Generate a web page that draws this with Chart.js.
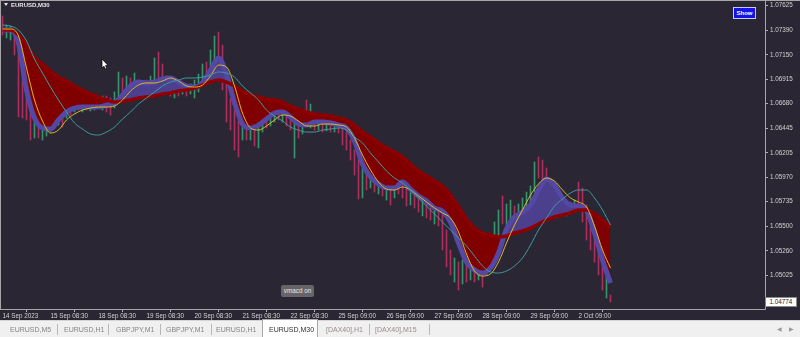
<!DOCTYPE html>
<html>
<head>
<meta charset="utf-8">
<script src="https://cdn.jsdelivr.net/npm/chart.js@4.4.0/dist/chart.umd.min.js"></script>
<style>
  html, body { margin: 0; padding: 0; width: 800px; height: 337px; overflow: hidden; background: #2a2633; font-family: 'Liberation Sans', Arial, sans-serif; }
  #wrap { position: absolute; left: 0; top: 0; width: 800px; height: 320px; }
  #chart { display: block; }
  #title { position: absolute; left: 4px; top: 1px; color: #e8e8e8; font-size: 6px; font-weight: bold; line-height: 9px; }
  #title .tri { display: inline-block; width: 0; height: 0; border-left: 2.5px solid transparent; border-right: 2.5px solid transparent; border-top: 3px solid #e8e8e8; margin-right: 3px; vertical-align: 1px; }
  #show { position: absolute; left: 733px; top: 7px; width: 21px; height: 10px; background: #1414e6; border: 1px solid #c8c8ff; color: #fff; font-size: 6px; font-weight: bold; line-height: 10px; text-align: center; }
  #vmacd { position: absolute; left: 281px; top: 285px; width: 33px; height: 12px; background: #666468; border-radius: 2px; color: #e6e6e6; font-size: 6.3px; line-height: 12px; text-align: center; }
  #last { position: absolute; left: 765px; top: 297px; width: 30px; height: 8px; background: #fff; border: 1px solid #8a8a8a; color: #222; font-size: 6.3px; line-height: 8px; text-align: center; }
  #tabs { position: absolute; left: 0; top: 320px; width: 800px; height: 17px; background: #f0f0f0; border-top: 1px solid #d4d4d4; box-sizing: border-box; }
  .tab { position: absolute; top: 4px; color: #858585; font-size: 7px; line-height: 9px; white-space: nowrap; }
  .sep { position: absolute; top: 3px; width: 1px; height: 11px; background: #b8b8b8; }
  #active { position: absolute; left: 262px; top: -2px; width: 56px; height: 18px; background: #fff; border: 1px solid #a8a8a8; border-bottom: none; box-sizing: border-box; }
  #active span { position: absolute; left: 6px; top: 5px; color: #303030; font-size: 7px; line-height: 9px; }
  .arr { position: absolute; top: 4px; color: #9a9a9a; font-size: 6px; line-height: 9px; }
</style>
</head>
<body>
<div id="wrap">
  <canvas id="chart" width="800" height="320"></canvas>
  <div id="title"><span class="tri"></span>EURUSD,M30</div>
  <div id="show">Show</div>
  <div id="vmacd">vmacd on</div>
  <div id="last">1.04774</div>
</div>
<div id="tabs">
  <span class="tab" style="left:10px">EURUSD,M5</span>
  <span class="sep" style="left:57px"></span>
  <span class="tab" style="left:64px">EURUSD,H1</span>
  <span class="sep" style="left:108px"></span>
  <span class="tab" style="left:116px">GBPJPY,M1</span>
  <span class="sep" style="left:160px"></span>
  <span class="tab" style="left:166px">GBPJPY,M1</span>
  <span class="sep" style="left:211px"></span>
  <span class="tab" style="left:216px">EURUSD,H1</span>
  <div id="active"><span>EURUSD,M30</span></div>
  <span class="tab" style="left:326px;color:#9a8a8a">[DAX40],H1</span>
  <span class="sep" style="left:369px"></span>
  <span class="tab" style="left:375px;color:#9a8a8a">[DAX40],M15</span>
  <span class="sep" style="left:429px"></span>
  <span class="arr" style="left:777px">&#9664;</span>
  <span class="arr" style="left:789px">&#9654;</span>
</div>
<script>
// time axis labels, one per trading day (12 two-hour samples)
const tickLabels = ['14 Sep 2023', '15 Sep 08:30', '18 Sep 08:30', '19 Sep 08:30', '20 Sep 08:30', '21 Sep 08:30',
  '22 Sep 08:30', '25 Sep 09:00', '26 Sep 09:00', '27 Sep 09:00', '28 Sep 09:00', '29 Sep 09:00', '2 Oct 09:00'];
const priceTicks = [1.07625, 1.07390, 1.07150, 1.06915, 1.06680, 1.06445, 1.06205, 1.05970, 1.05735, 1.05500, 1.05260, 1.05025];
const lastPrice = 1.04774;

// candles (two-hour samples): high, low, direction u/d
const candleHigh = [
  1.07526,1.07439,1.07429,1.07391,1.07246,1.07101,1.06764,1.06716,1.06503,1.06474,
  1.06503,1.06484,1.06542,1.06581,1.06619,1.06600,1.06658,1.06677,1.06696,1.06716,
  1.06696,1.06716,1.06706,1.06716,1.06735,1.06754,1.06754,1.06735,1.06793,1.06986,
  1.06928,1.06947,1.06928,1.06976,1.06908,1.06889,1.06908,1.06947,1.07121,1.07179,
  1.07063,1.06947,1.06870,1.06831,1.06851,1.06870,1.06851,1.06870,1.06908,1.06966,
  1.07063,1.07082,1.07198,1.07333,1.07371,1.07246,1.06908,1.06735,1.06619,1.06523,
  1.06503,1.06484,1.06503,1.06484,1.06523,1.06542,1.06600,1.06619,1.06638,1.06677,
  1.06658,1.06619,1.06581,1.06542,1.06523,1.06542,1.06716,1.06677,1.06542,1.06523,
  1.06523,1.06513,1.06523,1.06503,1.06513,1.06484,1.06446,1.06330,1.06233,1.06137,
  1.06060,1.06021,1.06002,1.05963,1.05944,1.05925,1.05906,1.05886,1.05906,1.05944,
  1.05906,1.05886,1.05848,1.05828,1.05809,1.05771,1.05751,1.05713,1.05693,1.05674,
  1.05616,1.05462,1.05269,1.05192,1.05153,1.05173,1.05153,1.05134,1.05115,1.05134,
  1.05153,1.05269,1.05404,1.05539,1.05655,1.05790,1.05713,1.05751,1.05693,1.05713,
  1.05771,1.05828,1.05886,1.06118,1.06166,1.06137,1.06060,1.05906,1.05790,1.05751,
  1.05732,1.05713,1.05732,1.05751,1.05925,1.05867,1.05703,1.05578,1.05443,1.05317,
  1.05192,1.05028,1.04835
];
const candleLow = [
  1.07342,1.07314,1.07294,1.07150,1.06552,1.06542,1.06523,1.06330,1.06349,1.06349,
  1.06330,1.06368,1.06407,1.06446,1.06474,1.06455,1.06542,1.06571,1.06600,1.06619,
  1.06600,1.06619,1.06610,1.06619,1.06638,1.06619,1.06600,1.06571,1.06638,1.06716,
  1.06754,1.06793,1.06773,1.06812,1.06764,1.06754,1.06773,1.06812,1.06870,1.06908,
  1.06889,1.06812,1.06754,1.06735,1.06754,1.06773,1.06754,1.06773,1.06735,1.06793,
  1.06889,1.06947,1.06986,1.07101,1.07063,1.06812,1.06503,1.06426,1.06233,1.06166,
  1.06330,1.06330,1.06330,1.06272,1.06253,1.06407,1.06446,1.06465,1.06503,1.06523,
  1.06503,1.06465,1.06426,1.06156,1.06349,1.06388,1.06484,1.06446,1.06426,1.06426,
  1.06407,1.06417,1.06407,1.06407,1.06397,1.06282,1.06233,1.06137,1.05992,1.05761,
  1.05771,1.05848,1.05867,1.05828,1.05809,1.05790,1.05751,1.05703,1.05771,1.05809,
  1.05771,1.05693,1.05703,1.05674,1.05635,1.05597,1.05578,1.05558,1.05520,1.05500,
  1.05269,1.05105,1.05028,1.04960,1.04883,1.04941,1.04960,1.04980,1.04960,1.04980,
  1.04912,1.05028,1.05153,1.05269,1.05365,1.05520,1.05500,1.05539,1.05558,1.05578,
  1.05616,1.05655,1.05703,1.05828,1.05963,1.05906,1.05848,1.05732,1.05635,1.05616,
  1.05597,1.05597,1.05616,1.05635,1.05674,1.05539,1.05365,1.05269,1.05153,1.05028,
  1.04883,1.04806,1.04768
];
const candleDir = 'duudddddud' + 'uuudududud' + 'uduududduu' + 'dudududuud' + 'dudududuuu' +
  'uduudddddd' + 'ududuuduud' + 'uddudududu' + 'dududddddd' + 'ududududud' +
  'ddudduddud' + 'dddudududu' + 'duuuuduudu' + 'uuuudddddu' + 'dududddddd' + 'dud';

// moving averages, one value every second sample
const fastMA = [
  1.07391,1.07391,1.07265,1.06812,1.06542,1.06446,1.06436,1.06523,1.06600,1.06638,
  1.06648,1.06648,1.06648,1.06667,1.06687,1.06764,1.06851,1.06889,1.06880,1.06889,
  1.06918,1.06928,1.06889,1.06851,1.06841,1.06880,1.07005,1.07121,1.06966,1.06687,
  1.06484,1.06446,1.06474,1.06532,1.06590,1.06600,1.06552,1.06484,1.06474,1.06503,
  1.06503,1.06494,1.06474,1.06446,1.06320,1.06098,1.05973,1.05906,1.05867,1.05867,
  1.05925,1.05857,1.05790,1.05742,1.05674,1.05645,1.05539,1.05337,1.05153,1.05076,
  1.05047,1.05095,1.05240,1.05472,1.05587,1.05635,1.05703,1.05848,1.05954,1.05896,
  1.05771,1.05703,1.05693,1.05655,1.05433,1.05173,1.04951
];
const slowMA = [
  1.07391,1.07391,1.07342,1.07246,1.07130,1.07063,1.06995,1.06937,1.06899,1.06851,
  1.06812,1.06773,1.06745,1.06716,1.06696,1.06706,1.06716,1.06735,1.06745,1.06754,
  1.06773,1.06783,1.06802,1.06812,1.06831,1.06860,1.06889,1.06908,1.06889,1.06851,
  1.06802,1.06764,1.06745,1.06725,1.06716,1.06696,1.06658,1.06629,1.06600,1.06581,
  1.06571,1.06561,1.06542,1.06523,1.06474,1.06407,1.06359,1.06301,1.06253,1.06214,
  1.06166,1.06098,1.06031,1.05983,1.05934,1.05886,1.05799,1.05684,1.05568,1.05481,
  1.05433,1.05414,1.05394,1.05404,1.05433,1.05452,1.05481,1.05520,1.05558,1.05587,
  1.05607,1.05626,1.05655,1.05655,1.05616,1.05558,1.05491
];
const yellowMA = [
  1.07400,1.07400,1.07333,1.07024,1.06716,1.06513,1.06397,1.06426,1.06523,1.06581,
  1.06619,1.06638,1.06648,1.06648,1.06658,1.06716,1.06802,1.06860,1.06880,1.06880,
  1.06899,1.06928,1.06899,1.06851,1.06841,1.06860,1.06947,1.07053,1.07034,1.06851,
  1.06590,1.06446,1.06426,1.06465,1.06523,1.06571,1.06561,1.06513,1.06465,1.06465,
  1.06484,1.06484,1.06474,1.06455,1.06349,1.06185,1.06041,1.05925,1.05857,1.05848,
  1.05877,1.05848,1.05790,1.05732,1.05674,1.05626,1.05578,1.05443,1.05230,1.05067,
  1.05018,1.05038,1.05153,1.05337,1.05510,1.05655,1.05799,1.05906,1.05963,1.05934,
  1.05848,1.05771,1.05732,1.05684,1.05500,1.05269,1.05095
];
const tealMA = [
  1.07439,1.07429,1.07391,1.07285,1.07111,1.06976,1.06841,1.06716,1.06600,1.06494,
  1.06436,1.06388,1.06378,1.06407,1.06455,1.06532,1.06600,1.06677,1.06735,1.06793,
  1.06851,1.06889,1.06908,1.06928,1.06928,1.06937,1.06957,1.06986,1.06976,1.06937,
  1.06851,1.06783,1.06716,1.06619,1.06561,1.06513,1.06455,1.06426,1.06407,1.06407,
  1.06426,1.06436,1.06446,1.06426,1.06359,1.06301,1.06204,1.06118,1.06031,1.05963,
  1.05915,1.05848,1.05771,1.05693,1.05616,1.05539,1.05462,1.05385,1.05308,1.05211,
  1.05115,1.05057,1.05047,1.05067,1.05115,1.05192,1.05317,1.05462,1.05578,1.05693,
  1.05761,1.05819,1.05848,1.05848,1.05771,1.05655,1.05510
];

const maPoints = arr => arr.map((v, k) => ({ x: k * 2, y: v }));
const candles = candleHigh.map((h, i) => ({ x: i, y: [candleLow[i], h] }));
const candleColors = candleHigh.map((h, i) => candleDir[i] === 'u' ? '#34946a' : '#b02c5c');

const tickFont = { family: 'Liberation Sans', size: 6.3 };

// frame lines and mouse pointer
const framePlugin = {
  id: 'frame',
  afterDraw(chart) {
    const c = chart.ctx, a = chart.chartArea;
    c.save();
    c.strokeStyle = '#a6a6a6';
    c.lineWidth = 1;
    c.beginPath();
    c.moveTo(0, 0.5); c.lineTo(800, 0.5);
    c.moveTo(0.5, 0); c.lineTo(0.5, a.bottom + 0.5);
    c.moveTo(a.right + 0.5, 0); c.lineTo(a.right + 0.5, a.bottom + 0.5);
    c.moveTo(0, a.bottom + 0.5); c.lineTo(a.right + 0.5, a.bottom + 0.5);
    c.stroke();
    // pointer
    c.beginPath();
    c.moveTo(102, 59); c.lineTo(102, 68); c.lineTo(104, 66.2); c.lineTo(105.4, 69);
    c.lineTo(106.8, 68.3); c.lineTo(105.5, 65.6); c.lineTo(108, 65.4); c.closePath();
    c.fillStyle = '#ffffff'; c.strokeStyle = '#000000'; c.lineWidth = 0.7;
    c.fill(); c.stroke();
    c.restore();
  }
};

new Chart(document.getElementById('chart').getContext('2d'), {
  type: 'line',
  data: {
    datasets: [
      { label: 'teal', data: maPoints(tealMA), borderColor: '#3a9fa2', borderWidth: 1, order: 0 },
      { label: 'yellow', data: maPoints(yellowMA), borderColor: '#e0bd1a', borderWidth: 1, order: 1 },
      { label: 'slow', data: maPoints(slowMA), borderColor: '#8e0000', borderWidth: 3.5, order: 2 },
      { label: 'fast', data: maPoints(fastMA), borderColor: '#5548a4', borderWidth: 5, order: 3,
        fill: { target: 2, above: '#4c3f8e', below: '#800000' } },
      { type: 'bar', label: 'candles', data: candles, backgroundColor: candleColors, borderWidth: 0,
        barThickness: 1, order: 4 }
    ]
  },
  options: {
    responsive: false,
    animation: false,
    events: [],
    layout: { padding: { top: 2, left: 0, right: 0, bottom: 0 } },
    elements: {
      point: { radius: 0 },
      line: { cubicInterpolationMode: 'monotone', fill: false }
    },
    plugins: { legend: { display: false }, tooltip: { enabled: false } },
    scales: {
      x: {
        type: 'linear', min: -0.625, max: 190.625, offset: false,
        afterBuildTicks: s => { s.ticks = tickLabels.map((t, k) => ({ value: k * 12 })); },
        afterFit: s => { s.height = 11; s.paddingLeft = 0; s.paddingRight = 0; },
        ticks: { autoSkip: false, maxRotation: 0, align: 'start', padding: 0, color: '#d2d2d2', font: tickFont,
          callback: v => tickLabels[Math.round(v / 12)] },
        grid: { drawOnChartArea: false, drawTicks: true, tickLength: 3, color: '#b0b0b0' },
        border: { display: false }
      },
      y: {
        type: 'linear', position: 'right', min: 1.04700, max: 1.07661,
        afterBuildTicks: s => { s.ticks = priceTicks.map(v => ({ value: v })); },
        afterFit: s => { s.width = 35; s.paddingTop = 0; s.paddingBottom = 0; },
        ticks: { padding: 2, color: '#d2d2d2', font: tickFont, callback: v => v.toFixed(5) },
        grid: { drawOnChartArea: false, drawTicks: true, tickLength: 3, color: '#b0b0b0' },
        border: { display: false }
      }
    }
  },
  plugins: [framePlugin]
});
</script>
</body>
</html>
